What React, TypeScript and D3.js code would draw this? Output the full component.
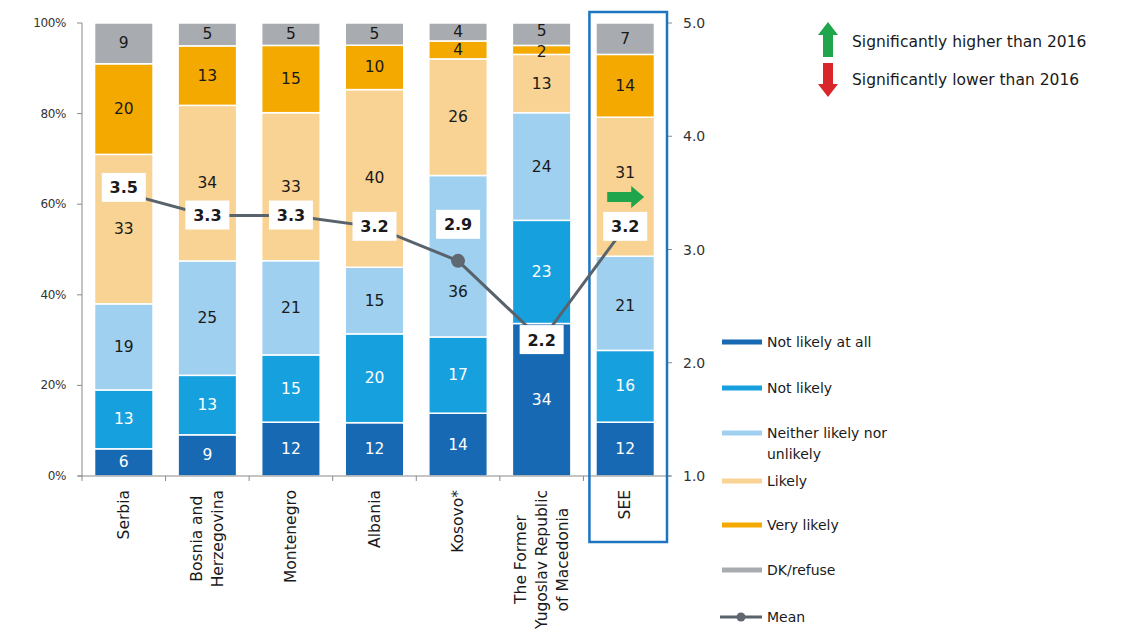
import React, { useEffect, useRef } from "react";
import * as d3 from "d3";

const categories = [
  "Serbia",
  "Bosnia and\nHerzegovina",
  "Montenegro",
  "Albania",
  "Kosovo*",
  "The Former\nYugoslav Republic\nof Macedonia",
  "SEE",
];
const seriesNames = [
  "Not likely at all",
  "Not likely",
  "Neither likely nor\nunlikely",
  "Likely",
  "Very likely",
  "DK/refuse",
];
const notLikelyAtAll = [6, 9, 12, 12, 14, 34, 12];
const notLikely = [13, 13, 15, 20, 17, 23, 16];
const neitherLikely = [19, 25, 21, 15, 36, 24, 21];
const likely = [33, 34, 33, 40, 26, 13, 31];
const veryLikely = [20, 13, 15, 10, 4, 2, 14];
const dkRefuse = [9, 5, 5, 5, 4, 5, 7];
const meanValues = [3.5, 3.3, 3.3, 3.2, 2.9, 2.2, 3.2];
const leftTicks = [0, 20, 40, 60, 80, 100];
const rightTicks = [1, 2, 3, 4, 5];

const seriesColors = ["#1769b4", "#17a0de", "#9fd0ef", "#f8d393", "#f4a900", "#a8abaf"];
const labelColors = ["#ffffff", "#ffffff", "#1a1a1a", "#1a1a1a", "#1a1a1a", "#1a1a1a"];

export default function App() {
  const ref = useRef<SVGSVGElement | null>(null);

  useEffect(() => {
    const svg = d3.select(ref.current);
    svg.selectAll("*").remove();
    const font = "'DejaVu Sans', Verdana, sans-serif";

    const left = 82, right = 667, top = 23, bottom = 476;
    const x = d3.scaleBand<number>().domain(d3.range(categories.length)).range([left, right]).paddingInner(0.3).paddingOuter(0.15);
    const xb = d3.scaleBand<number>().domain(d3.range(categories.length)).range([left, right]);
    const yPct = d3.scaleLinear().domain([0, 100]).range([bottom, top]);
    const yMean = d3.scaleLinear().domain([1, 5]).range([bottom, top]);

    const series = [notLikelyAtAll, notLikely, neitherLikely, likely, veryLikely, dkRefuse];
    const rows = categories.map((_, i) => {
      const vals = series.map((s) => s[i]);
      const tot = d3.sum(vals);
      const o: any = { i };
      vals.forEach((v, k) => (o["s" + k] = (v / tot) * 100));
      return o;
    });
    const stack = d3.stack<any>().keys(series.map((_, k) => "s" + k));
    const stacked = stack(rows);

    // manual label nudges (as in the original, to avoid the mean marks)
    const labelNudge = (k: number, i: number) => {
      if (k === 2 && i === 4) return 36;
      if (k === 3 && i === 6) return -14;
      if (k === 5 && i === 5) return -3;
      if (k === 4 && i === 5) return 2;
      if (k === 2 && i === 6) return 3;
      return 0;
    };

    // bars
    stacked.forEach((layer, k) => {
      const g = svg.append("g");
      layer.forEach((d, i) => {
        g.append("rect")
          .attr("x", x(i)!)
          .attr("width", x.bandwidth())
          .attr("y", yPct(d[1]))
          .attr("height", yPct(d[0]) - yPct(d[1]))
          .attr("fill", seriesColors[k])
          .attr("stroke", "#ffffff")
          .attr("stroke-width", 1.5);
      });
    });
    // segment labels
    stacked.forEach((layer, k) => {
      layer.forEach((d, i) => {
        svg.append("text")
          .attr("x", x(i)! + x.bandwidth() / 2)
          .attr("y", (yPct(d[0]) + yPct(d[1])) / 2 + labelNudge(k, i))
          .attr("text-anchor", "middle")
          .attr("dominant-baseline", "central")
          .attr("font-family", font)
          .attr("font-size", 15.5)
          .attr("fill", labelColors[k])
          .text(series[k][i]);
      });
    });

    // axes
    const axisColor = "#8a8a8a";
    svg.append("line").attr("x1", left).attr("x2", left).attr("y1", top).attr("y2", bottom).attr("stroke", axisColor);
    svg.append("line").attr("x1", right).attr("x2", right).attr("y1", top).attr("y2", bottom).attr("stroke", axisColor);
    svg.append("line").attr("x1", left - 4).attr("x2", right + 4).attr("y1", bottom).attr("y2", bottom).attr("stroke", axisColor);
    leftTicks.forEach((t) => {
      svg.append("line").attr("x1", left - 5).attr("x2", left).attr("y1", yPct(t)).attr("y2", yPct(t)).attr("stroke", axisColor);
      svg.append("text").attr("x", left - 16).attr("y", yPct(t)).attr("text-anchor", "end").attr("dominant-baseline", "central")
        .attr("font-family", font).attr("font-size", 12).attr("fill", "#333").attr("letter-spacing", -0.4).text(t + "%");
    });
    rightTicks.forEach((t) => {
      svg.append("line").attr("x1", right).attr("x2", right + 5).attr("y1", yMean(t)).attr("y2", yMean(t)).attr("stroke", axisColor);
      svg.append("text").attr("x", right + 16).attr("y", yMean(t)).attr("text-anchor", "start").attr("dominant-baseline", "central")
        .attr("font-family", font).attr("font-size", 14).attr("fill", "#333").text(t.toFixed(1));
    });
    d3.range(categories.length + 1).forEach((i) => {
      const xx = i < categories.length ? xb(i)! : right;
      svg.append("line").attr("x1", xx).attr("x2", xx).attr("y1", bottom).attr("y2", bottom + 5).attr("stroke", axisColor);
    });

    // category labels (rotated)
    categories.forEach((c, i) => {
      const lines = c.split("\n");
      const cx = x(i)! + x.bandwidth() / 2;
      const g = svg.append("g").attr("transform", `translate(${cx},${bottom + 14}) rotate(-90)`);
      const lh = 21;
      const texts = lines.map((l, j) =>
        g.append("text")
          .attr("y", (j - (lines.length - 1) / 2) * lh)
          .attr("text-anchor", "middle")
          .attr("dominant-baseline", "central")
          .attr("font-family", font)
          .attr("font-size", 15.5)
          .attr("fill", "#1a1a1a")
          .text(l)
      );
      const maxLen = d3.max(texts, (t) => (t.node() as SVGTextElement).getComputedTextLength()) || 0;
      texts.forEach((t) => t.attr("x", -maxLen / 2));
    });

    // SEE highlight box
    const last = categories.length - 1;
    svg.append("rect")
      .attr("x", xb(last)! + 6)
      .attr("y", 12)
      .attr("width", xb.bandwidth() - 6)
      .attr("height", 530)
      .attr("fill", "none")
      .attr("stroke", "#1f74c0")
      .attr("stroke-width", 2.5);

    // mean line
    const cxs = categories.map((_, i) => x(i)! + x.bandwidth() / 2);
    const line = d3.line<number>().x((_, i) => cxs[i]).y((d) => yMean(d));
    svg.append("path").attr("d", line(meanValues)!).attr("fill", "none").attr("stroke", "#59636b").attr("stroke-width", 3);
    meanValues.forEach((m, i) => {
      svg.append("circle").attr("cx", cxs[i]).attr("cy", yMean(m)).attr("r", 7).attr("fill", "#5f6870");
    });
    meanValues.forEach((m, i) => {
      const off = i === 4 ? -36 : i === 0 ? -5 : 0;
      const cy = yMean(m) + off;
      svg.append("rect").attr("x", cxs[i] - 22).attr("y", cy - 15).attr("width", 44).attr("height", 29).attr("fill", "#ffffff");
      svg.append("text").attr("x", cxs[i]).attr("y", cy).attr("text-anchor", "middle").attr("dominant-baseline", "central")
        .attr("font-family", font).attr("font-size", 16).attr("font-weight", "bold").attr("fill", "#1a1a1a").text(m.toFixed(1));
    });

    // green arrow in SEE bar
    const ax = cxs[last], ay = 197;
    svg.append("path")
      .attr("d", `M${ax - 18},${ay - 5} L${ax + 6},${ay - 5} L${ax + 6},${ay - 11} L${ax + 19},${ay} L${ax + 6},${ay + 11} L${ax + 6},${ay + 5} L${ax - 18},${ay + 5} Z`)
      .attr("fill", "#1fa54b");

    // significance legend
    const gx = 828;
    svg.append("path")
      .attr("d", `M${gx},22 L${gx + 10},35 L${gx + 5},35 L${gx + 5},57 L${gx - 5},57 L${gx - 5},35 L${gx - 10},35 Z`)
      .attr("fill", "#1fa54b");
    svg.append("path")
      .attr("d", `M${gx},97 L${gx + 10},84 L${gx + 5},84 L${gx + 5},63 L${gx - 5},63 L${gx - 5},84 L${gx - 10},84 Z`)
      .attr("fill", "#d9262b");
    svg.append("text").attr("x", 852).attr("y", 42).attr("dominant-baseline", "central").attr("font-family", font)
      .attr("font-size", 15.5).attr("fill", "#1a1a1a").text("Significantly higher than 2016");
    svg.append("text").attr("x", 852).attr("y", 80).attr("dominant-baseline", "central").attr("font-family", font)
      .attr("font-size", 15.5).attr("fill", "#1a1a1a").text("Significantly lower than 2016");

    // series legend
    const legendY = [342, 388, 433, 481, 525, 570];
    seriesNames.forEach((n, k) => {
      const y = legendY[k];
      svg.append("rect").attr("x", 722).attr("y", y - 2.5).attr("width", 40).attr("height", 5).attr("fill", seriesColors[k]);
      n.split("\n").forEach((l, j) => {
        svg.append("text").attr("x", 767).attr("y", y + j * 21).attr("dominant-baseline", "central").attr("font-family", font)
          .attr("font-size", 14).attr("fill", "#1a1a1a").text(l);
      });
    });
    const my = 617;
    svg.append("line").attr("x1", 720).attr("x2", 762).attr("y1", my).attr("y2", my).attr("stroke", "#59636b").attr("stroke-width", 3);
    svg.append("circle").attr("cx", 741).attr("cy", my).attr("r", 4.5).attr("fill", "#5f6870");
    svg.append("text").attr("x", 767).attr("y", my).attr("dominant-baseline", "central").attr("font-family", font)
      .attr("font-size", 14).attr("fill", "#1a1a1a").text("Mean");
  }, []);

  return (
    <svg
      ref={ref}
      width={1122}
      height={642}
      style={{ position: "absolute", left: 0, top: 0, background: "#ffffff" }}
    />
  );
}
